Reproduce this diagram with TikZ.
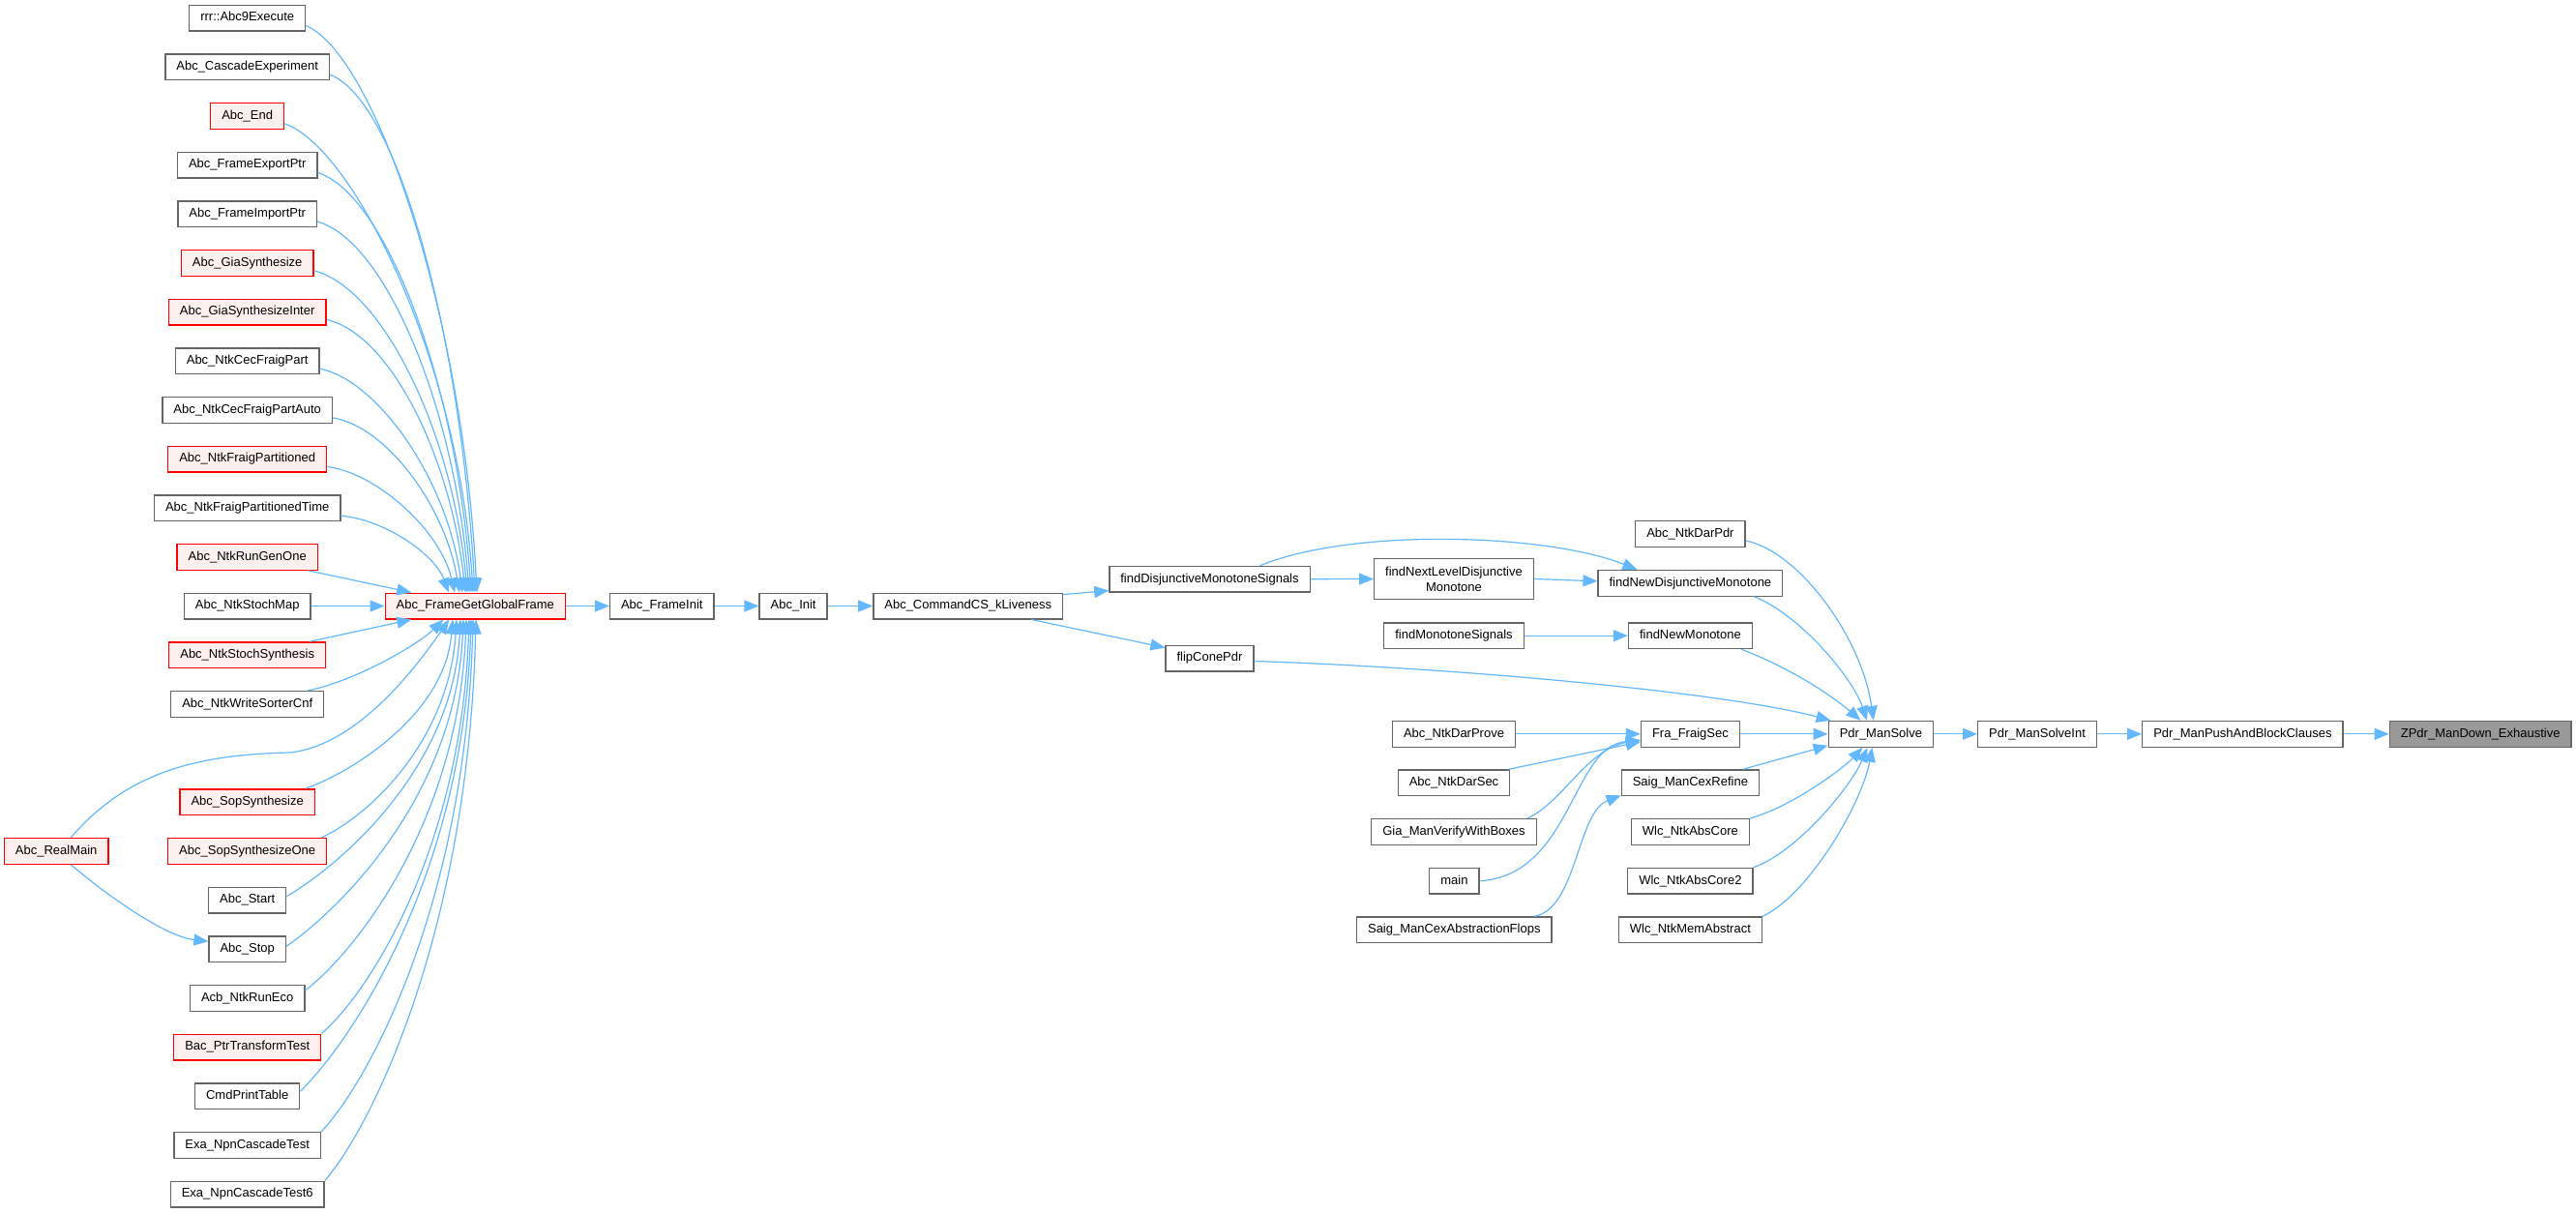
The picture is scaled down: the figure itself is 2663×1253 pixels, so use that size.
\documentclass[tikz,border=0pt]{standalone}
\usepackage{fontspec}
\setmainfont{Liberation Sans}
\usetikzlibrary{arrows.meta}
\definecolor{edgeblue}{HTML}{63B8FF}
\definecolor{boxgray}{HTML}{666666}
\definecolor{redfill}{HTML}{FFF0F0}
\definecolor{hifill}{HTML}{999999}
\newcommand{\dxfont}{\fontsize{13pt}{16pt}\selectfont}
\begin{document}
\begin{tikzpicture}[x=1pt,y=-1pt,
  basebox/.style={draw=boxgray, fill=white, line width=1.3pt, inner xsep=11.5pt, inner ysep=0pt, font=\dxfont, text=black},
  box/.style={basebox, minimum height=26.7pt, text height=9.4pt, text depth=2.7pt},
  redbox/.style={box, draw=red, fill=redfill},
  hibox/.style={box, fill=hifill},
  edge/.style={draw=edgeblue, line width=1.2pt, -{Triangle[length=15pt,width=12pt]}}]
\fill[white] (0,0) rectangle (2663,1253);
\useasboundingbox (0,0) rectangle (2663,1253);
% left column
\node[box]    (n0)  at (255.7,18.5)  {rrr::Abc9Execute};
\node[box]    (n1)  at (255.7,69.2)  {Abc\_CascadeExperiment};
\node[redbox] (n2)  at (255.7,119.8) {Abc\_End};
\node[box]    (n3)  at (255.7,170.5) {Abc\_FrameExportPtr};
\node[box]    (n4)  at (255.7,221.2) {Abc\_FrameImportPtr};
\node[redbox] (n5)  at (255.7,271.9) {Abc\_GiaSynthesize};
\node[redbox] (n6)  at (255.7,322.5) {Abc\_GiaSynthesizeInter};
\node[box]    (n7)  at (255.7,373.2) {Abc\_NtkCecFraigPart};
\node[box]    (n8)  at (255.7,423.9) {Abc\_NtkCecFraigPartAuto};
\node[redbox] (n9)  at (255.7,474.5) {Abc\_NtkFraigPartitioned};
\node[box]    (n10) at (255.7,525.2) {Abc\_NtkFraigPartitionedTime};
\node[redbox] (n11) at (255.7,575.9) {Abc\_NtkRunGenOne};
\node[box]    (n12) at (255.7,626.5) {Abc\_NtkStochMap};
\node[redbox] (n13) at (255.7,677.2) {Abc\_NtkStochSynthesis};
\node[box]    (n14) at (255.7,727.9) {Abc\_NtkWriteSorterCnf};
\node[redbox] (n16) at (255.7,829.2) {Abc\_SopSynthesize};
\node[redbox] (n17) at (255.7,879.9) {Abc\_SopSynthesizeOne};
\node[box]    (n18) at (255.7,930.6) {Abc\_Start};
\node[box]    (n19) at (255.7,981.2) {Abc\_Stop};
\node[box]    (n20) at (255.7,1031.9) {Acb\_NtkRunEco};
\node[redbox] (n21) at (255.7,1082.6) {Bac\_PtrTransformTest};
\node[box]    (n22) at (255.7,1133.2) {CmdPrintTable};
\node[box]    (n23) at (255.7,1183.9) {Exa\_NpnCascadeTest};
\node[box]    (n24) at (255.7,1234.6) {Exa\_NpnCascadeTest6};
\node[redbox] (rm)  at (58.2,879.9) {Abc\_RealMain};
% chain
\node[redbox] (ggf) at (491.3,626.5) {Abc\_FrameGetGlobalFrame};
\node[box] (fi)  at (684.3,626.5) {Abc\_FrameInit};
\node[box] (ini) at (820.1,626.5) {Abc\_Init};
\node[box] (cs)  at (1000.7,626.5) {Abc\_CommandCS\_kLiveness};
\node[box] (fdms) at (1250.5,598.7) {findDisjunctiveMonotoneSignals};
\node[box] (flip) at (1250.5,680.5) {flipConePdr};
\node[basebox, minimum height=42.3pt, align=center] (nl) at (1503,598.5) {findNextLevelDisjunctive\\Monotone};
\node[box] (fms) at (1503,657.2) {findMonotoneSignals};
\node[box] (dprove) at (1503,758.8) {Abc\_NtkDarProve};
\node[box] (dsec) at (1503,809.3) {Abc\_NtkDarSec};
\node[box] (gia) at (1503,860) {Gia\_ManVerifyWithBoxes};
\node[box] (mn) at (1503.4,910.7) {main};
\node[box] (flops) at (1503.3,961.3) {Saig\_ManCexAbstractionFlops};
\node[box] (darpdr) at (1747.4,552) {Abc\_NtkDarPdr};
\node[box] (fndm) at (1747.4,602.8) {findNewDisjunctiveMonotone};
\node[box] (fnm) at (1747.4,657.2) {findNewMonotone};
\node[box] (fra) at (1747.4,758.8) {Fra\_FraigSec};
\node[box] (scr) at (1747.4,809.3) {Saig\_ManCexRefine};
\node[box] (wlc1) at (1747.4,860) {Wlc\_NtkAbsCore};
\node[box] (wlc2) at (1747.4,910.7) {Wlc\_NtkAbsCore2};
\node[box] (wlcm) at (1747.4,961.3) {Wlc\_NtkMemAbstract};
\node[box] (pdr) at (1944.4,758.8) {Pdr\_ManSolve};
\node[box] (psi) at (2106,758.8) {Pdr\_ManSolveInt};
\node[box] (pab) at (2318.4,758.8) {Pdr\_ManPushAndBlockClauses};
\node[hibox] (zp) at (2564.2,758.8) {ZPdr\_ManDown\_Exhaustive};
% edges into Abc_FrameGetGlobalFrame from above
\draw[edge] ([yshift=-8pt]n0.east) .. controls +(70,29) and +(-15,-293) .. ([xshift=1.7pt]ggf.north);
\draw[edge] ([yshift=-8pt]n1.east) .. controls +(70,27) and +(-15,-268) .. ([xshift=-0.3pt]ggf.north);
\draw[edge] ([yshift=-8pt]n2.east) .. controls +(70,24) and +(-15,-243) .. ([xshift=-2.3pt]ggf.north);
\draw[edge] ([yshift=-8pt]n3.east) .. controls +(70,22) and +(-15,-217) .. ([xshift=-4.3pt]ggf.north);
\draw[edge] ([yshift=-8pt]n4.east) .. controls +(70,19) and +(-15,-192) .. ([xshift=-6.3pt]ggf.north);
\draw[edge] ([yshift=-8pt]n5.east) .. controls +(70,17) and +(-15,-167) .. ([xshift=-8.3pt]ggf.north);
\draw[edge] ([yshift=-8pt]n6.east) .. controls +(65,14) and +(-15,-141) .. ([xshift=-10.3pt]ggf.north);
\draw[edge] ([yshift=-8pt]n7.east) .. controls +(60,12) and +(-15,-116) .. ([xshift=-13.3pt]ggf.north);
\draw[edge] ([yshift=-8pt]n8.east) .. controls +(55,9) and +(-15,-90) .. ([xshift=-16.3pt]ggf.north);
\draw[edge] ([yshift=-8pt]n9.east) .. controls +(50,6) and +(-15,-65) .. ([xshift=-21.3pt]ggf.north);
\draw[edge] ([yshift=-8pt]n10.east) .. controls +(45,4) and +(-15,-40) .. ([xshift=-27.3pt]ggf.north);
\draw[edge] ([xshift=-10pt]n11.south east) -- ([xshift=-66pt]ggf.north);
\draw[edge] (n12.east) -- (ggf.west);
\draw[edge] ([xshift=-17pt]n13.north east) -- ([xshift=-66pt]ggf.south);
\draw[edge] ([xshift=-17pt]n14.north east) .. controls +(50,-10) and +(-25,25) .. ([xshift=-33pt]ggf.south);
\draw[edge] ([xshift=15pt]rm.north) .. controls (130,800) and (200,780) .. (300,778) .. controls (370,770) and (430,690) .. ([xshift=-27pt]ggf.south);
\draw[edge] ([xshift=-10pt]n16.north east) .. controls +(50,-18) and +(-8,97) .. ([xshift=-23.3pt]ggf.south);
\draw[edge] ([xshift=-6pt]n17.north east) .. controls +(50,-23) and +(-8,125) .. ([xshift=-19.3pt]ggf.south);
\draw[edge] ([yshift=4pt]n18.east) .. controls +(50,-29) and +(-8,158) .. ([xshift=-15.3pt]ggf.south);
\draw[edge] ([yshift=3pt]n19.east) .. controls +(50,-34) and +(-8,186) .. ([xshift=-12.3pt]ggf.south);
\draw[edge] ([yshift=8pt]n20.east) .. controls +(50,-38) and +(-8,211) .. ([xshift=-9.3pt]ggf.south);
\draw[edge] (n21.north east) .. controls +(50,-43) and +(-8,236) .. ([xshift=-6.3pt]ggf.south);
\draw[edge] ([yshift=5pt]n22.east) .. controls +(50,-49) and +(-8,268) .. ([xshift=-4.3pt]ggf.south);
\draw[edge] (n23.north east) .. controls +(50,-53) and +(-8,292) .. ([xshift=-2.3pt]ggf.south);
\draw[edge] (n24.north east) .. controls +(50,-58) and +(-8,320) .. ([xshift=0.7pt]ggf.south);
\draw[edge] ([xshift=15pt]rm.south) .. controls (110,925) and (170,968) .. ([yshift=8pt]n19.west);
% chain edges
\draw[edge] (ggf.east) -- (fi.west);
\draw[edge] (fi.east) -- (ini.west);
\draw[edge] (ini.east) -- (cs.west);
\draw[edge] ([yshift=-2pt]cs.north east) -- ([yshift=2pt]fdms.south west);
\draw[edge] ([xshift=-33pt]cs.south east) -- ([yshift=-3pt]flip.north west);
\draw[edge] (fdms.east) -- (nl.west);
\draw[edge] ([xshift=52pt]fdms.north) .. controls (1400,545) and (1600,552) .. ([xshift=-55pt]fndm.north);
\draw[edge] (nl.east) -- ([yshift=2pt]fndm.west);
\draw[edge] (fms.east) -- (fnm.west);
\draw[edge] ([yshift=-3pt]flip.east) .. controls (1500,690) and (1780,715) .. ([xshift=3pt]pdr.north west);
\draw[edge] ([yshift=-7pt]darpdr.east) .. controls (1860,570) and (1925,660) .. ([xshift=-7.7pt]pdr.north);
\draw[edge] ([xshift=66pt]fndm.south) .. controls (1860,635) and (1915,700) .. ([xshift=-14.4pt]pdr.north);
\draw[edge] ([xshift=52.6pt]fnm.south) .. controls (1850,690) and (1895,720) .. ([xshift=-21pt]pdr.north);
\draw[edge] (fra.east) -- (pdr.west);
\draw[edge] ([xshift=54.3pt]scr.north) -- ([yshift=2pt]pdr.south west);
\draw[edge] (wlc1.north east) .. controls (1850,835) and (1905,795) .. ([xshift=-19pt]pdr.south);
\draw[edge] (wlc2.north east) .. controls (1860,880) and (1915,810) .. ([xshift=-14pt]pdr.south);
\draw[edge] (wlcm.north east) .. controls (1870,925) and (1925,830) .. ([xshift=-9pt]pdr.south);
\draw[edge] (dprove.east) -- (fra.west);
\draw[edge] ([xshift=-2pt]dsec.north east) -- ([yshift=-8pt]fra.west);
\draw[edge] ([xshift=-10pt]gia.north east) .. controls (1615,830) and (1640,775) .. ([yshift=-6pt]fra.west);
\draw[edge] (mn.east) .. controls (1625,905) and (1625,770) .. ([yshift=-7pt]fra.west);
\draw[edge] ([xshift=-18.6pt]flops.north east) .. controls (1630,940) and (1630,840) .. ([yshift=1pt]scr.south west);
\draw[edge] (pdr.east) -- (psi.west);
\draw[edge] (psi.east) -- (pab.west);
\draw[edge] (pab.east) -- (zp.west);
\end{tikzpicture}
\end{document}
